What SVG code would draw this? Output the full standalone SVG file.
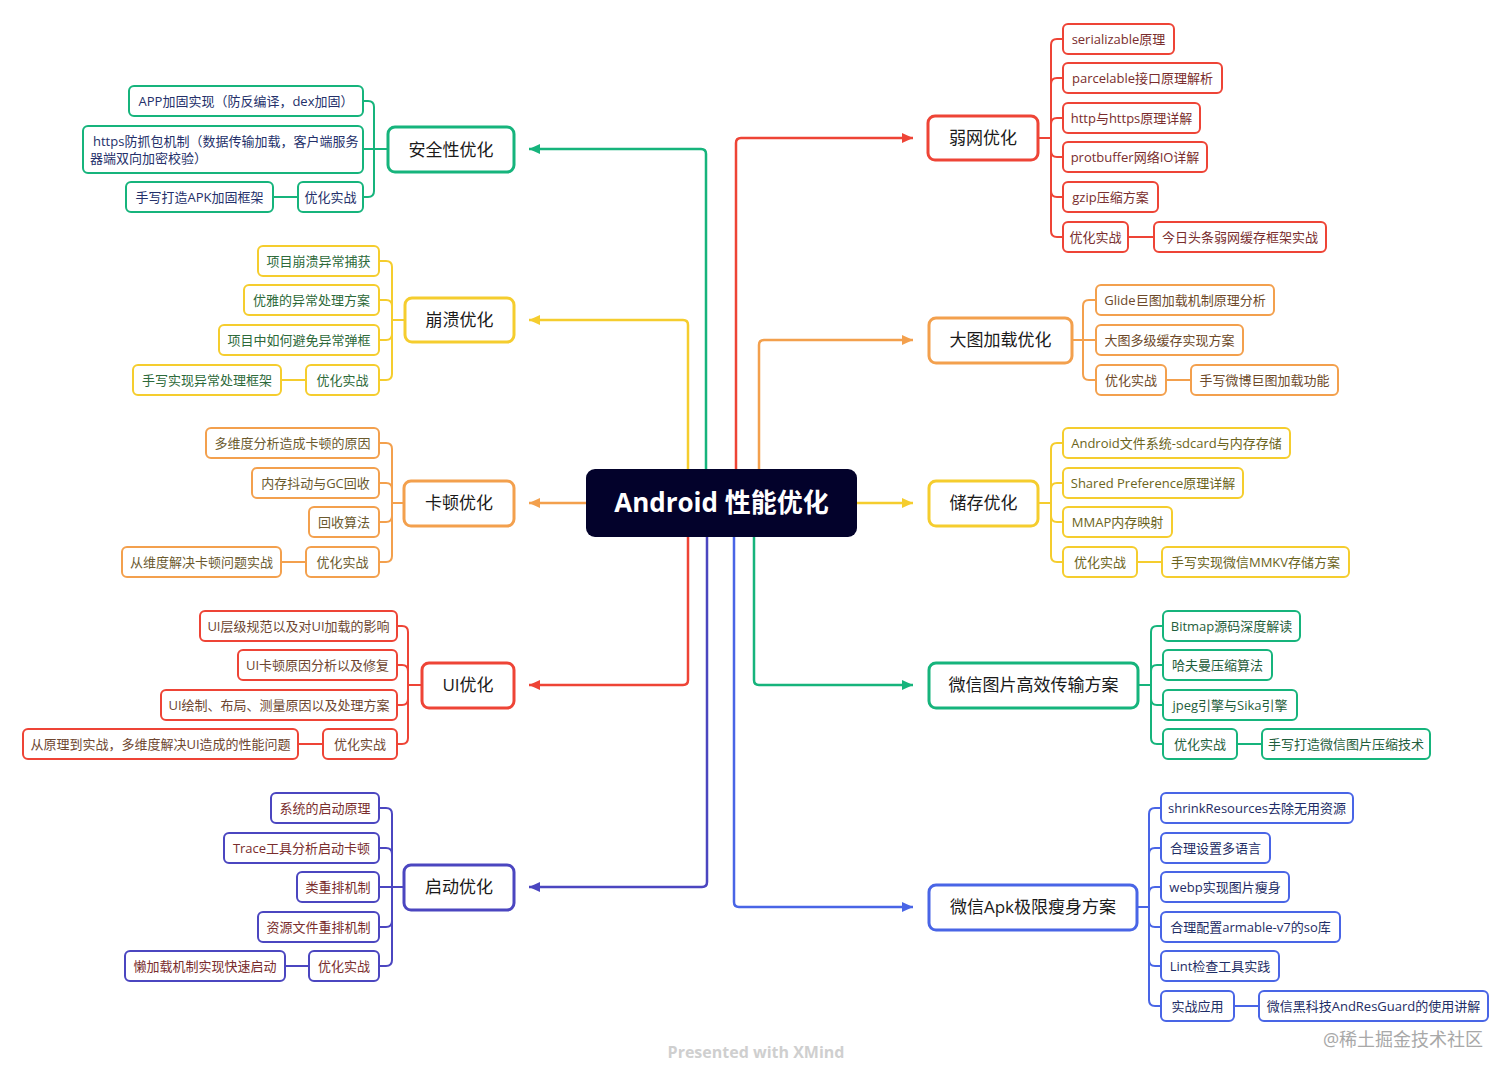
<svg xmlns="http://www.w3.org/2000/svg" width="1512" height="1077" viewBox="0 0 1512 1077">
<style>
text{font-family:"Open Sans","Noto Sans CJK SC",sans-serif;dominant-baseline:central;text-anchor:middle}
.c{font-size:13px}
.p{font-size:17px;fill:#1a1a1a}
rect.n{fill:#fff;stroke-width:2}
rect.m{fill:#fff;stroke-width:3}
.ln{fill:none;stroke-width:2}
.tk{fill:none;stroke-width:2.5}
.G{stroke:#16b47c}.Y{stroke:#f5cd2e}.O{stroke:#f3a04d}.R{stroke:#ee4436}.P{stroke:#4b46c0}.B{stroke:#4965e6}
.tA{fill:#24306a}.tC{fill:#2d6a3a}.tK{fill:#6b5a2e}.tU{fill:#6e4630}.tS{fill:#7a2d2d}.tW{fill:#7a2d2d}.tD{fill:#6e4a2a}.tT{fill:#6b6420}.tX{fill:#1f5e3c}.tB{fill:#1e2d66}
</style>
<defs>
<marker id="aG" markerUnits="userSpaceOnUse" markerWidth="11" markerHeight="10" refX="11" refY="5" orient="auto"><path d="M0,0 L11,5 L0,10 z" fill="#16b47c"/></marker>
<marker id="aY" markerUnits="userSpaceOnUse" markerWidth="11" markerHeight="10" refX="11" refY="5" orient="auto"><path d="M0,0 L11,5 L0,10 z" fill="#f5cd2e"/></marker>
<marker id="aO" markerUnits="userSpaceOnUse" markerWidth="11" markerHeight="10" refX="11" refY="5" orient="auto"><path d="M0,0 L11,5 L0,10 z" fill="#f3a04d"/></marker>
<marker id="aR" markerUnits="userSpaceOnUse" markerWidth="11" markerHeight="10" refX="11" refY="5" orient="auto"><path d="M0,0 L11,5 L0,10 z" fill="#ee4436"/></marker>
<marker id="aP" markerUnits="userSpaceOnUse" markerWidth="11" markerHeight="10" refX="11" refY="5" orient="auto"><path d="M0,0 L11,5 L0,10 z" fill="#4b46c0"/></marker>
<marker id="aB" markerUnits="userSpaceOnUse" markerWidth="11" markerHeight="10" refX="11" refY="5" orient="auto"><path d="M0,0 L11,5 L0,10 z" fill="#4965e6"/></marker>
</defs>
<rect width="1512" height="1077" fill="#fff"/>

<g id="connectors">
<path class="tk G" d="M706,469 V154 Q706,149 701,149 H529" marker-end="url(#aG)"/>
<path class="tk Y" d="M688,469 V325 Q688,320 683,320 H529" marker-end="url(#aY)"/>
<path class="tk O" d="M586,503 H529" marker-end="url(#aO)"/>
<path class="tk R" d="M688,537 V680 Q688,685 683,685 H529" marker-end="url(#aR)"/>
<path class="tk P" d="M707,537 V882 Q707,887 702,887 H529" marker-end="url(#aP)"/>
<path class="tk R" d="M736,469 V143 Q736,138 741,138 H913" marker-end="url(#aR)"/>
<path class="tk O" d="M759,469 V345 Q759,340 764,340 H913" marker-end="url(#aO)"/>
<path class="tk Y" d="M857,503 H913" marker-end="url(#aY)"/>
<path class="tk G" d="M754,537 V680 Q754,685 759,685 H913" marker-end="url(#aG)"/>
<path class="tk B" d="M734,537 V902 Q734,907 739,907 H913" marker-end="url(#aB)"/>
<path class="ln G" d="M388,149 H374 M374,149 V107 Q374,101 368,101 H363 M374,149 H363 M374,149 V191 Q374,197 368,197 H363 M298,197 H273"/>
<path class="ln Y" d="M405,320 H392 M392,320 V267 Q392,261 386,261 H379 M392,320 V306 Q392,300 386,300 H379 M392,320 V334 Q392,340 386,340 H379 M392,320 V374 Q392,380 386,380 H379 M306,380 H281"/>
<path class="ln O" d="M404,503 H392 M392,503 V449 Q392,443 386,443 H379 M392,503 V489 Q392,483 386,483 H379 M392,503 V516 Q392,522 386,522 H379 M392,503 V556 Q392,562 386,562 H379 M306,562 H281"/>
<path class="ln R" d="M422,685 H408 M408,685 V632 Q408,626 402,626 H397 M408,685 V671 Q408,665 402,665 H397 M408,685 V699 Q408,705 402,705 H397 M408,685 V738 Q408,744 402,744 H397 M323,744 H298"/>
<path class="ln P" d="M404,887 H392 M392,887 V814 Q392,808 386,808 H379 M392,887 V854 Q392,848 386,848 H379 M392,887 H379 M392,887 V921 Q392,927 386,927 H379 M392,887 V960 Q392,966 386,966 H379 M309,966 H285"/>
<path class="ln R" d="M1038,138 H1051 M1051,138 V45 Q1051,39 1057,39 H1063 M1051,138 V84 Q1051,78 1057,78 H1063 M1051,138 V124 Q1051,118 1057,118 H1063 M1051,138 V151 Q1051,157 1057,157 H1063 M1051,138 V191 Q1051,197 1057,197 H1063 M1051,138 V231 Q1051,237 1057,237 H1063 M1128,237 H1154"/>
<path class="ln O" d="M1072,340 H1083 M1083,340 V306 Q1083,300 1089,300 H1096 M1083,340 H1096 M1083,340 V374 Q1083,380 1089,380 H1096 M1166,380 H1191"/>
<path class="ln Y" d="M1038,503 H1051 M1051,503 V449 Q1051,443 1057,443 H1063 M1051,503 V489 Q1051,483 1057,483 H1063 M1051,503 V516 Q1051,522 1057,522 H1063 M1051,503 V556 Q1051,562 1057,562 H1063 M1137,562 H1162"/>
<path class="ln G" d="M1138,685 H1151 M1151,685 V632 Q1151,626 1157,626 H1163 M1151,685 V671 Q1151,665 1157,665 H1163 M1151,685 V699 Q1151,705 1157,705 H1163 M1151,685 V738 Q1151,744 1157,744 H1163 M1237,744 H1262"/>
<path class="ln B" d="M1137,907 H1149 M1149,907 V814 Q1149,808 1155,808 H1161 M1149,907 V854 Q1149,848 1155,848 H1161 M1149,907 V893 Q1149,887 1155,887 H1161 M1149,907 V921 Q1149,927 1155,927 H1161 M1149,907 V960 Q1149,966 1155,966 H1161 M1149,907 V1000 Q1149,1006 1155,1006 H1161 M1234,1006 H1259"/>
</g>

<g id="root"><rect x="586" y="469" width="271" height="68" rx="9" fill="#03022b"/><text x="721.5" y="502" fill="#fff" font-size="26" font-weight="700">Android 性能优化</text></g>

<g id="n-anquan"><rect class="m G" x="388" y="127" width="126" height="45" rx="7"/><text class="p" x="451" y="149">安全性优化</text></g>
<g id="n-anquan-1"><rect class="n G" x="129" y="86" width="234" height="30" rx="5"/><text class="c tA" x="246" y="100.5">APP加固实现（防反编译，dex加固）</text></g>
<g id="n-anquan-2"><rect class="n G" x="83" y="126" width="280" height="47" rx="5"/><text class="c tA" x="93" y="140.5" style="text-anchor:start">https防抓包机制（数据传输加载，客户端服务</text><text class="c tA" x="90" y="157.5" style="text-anchor:start">器端双向加密校验）</text></g>
<g id="n-anquan-3"><rect class="n G" x="298" y="182" width="65" height="30" rx="5"/><text class="c tA" x="330.5" y="196.5">优化实战</text></g>
<g id="n-anquan-4"><rect class="n G" x="126" y="182" width="147" height="30" rx="5"/><text class="c tA" x="199.5" y="196.5">手写打造APK加固框架</text></g>

<g id="n-bengkui"><rect class="m Y" x="405" y="298" width="109" height="44" rx="7"/><text class="p" x="459.5" y="319.5">崩溃优化</text></g>
<g id="n-bengkui-1"><rect class="n Y" x="258" y="246" width="121" height="30" rx="5"/><text class="c tC" x="318.5" y="260.5">项目崩溃异常捕获</text></g>
<g id="n-bengkui-2"><rect class="n Y" x="244" y="285" width="135" height="30" rx="5"/><text class="c tC" x="311.5" y="299.5">优雅的异常处理方案</text></g>
<g id="n-bengkui-3"><rect class="n Y" x="219" y="325" width="160" height="30" rx="5"/><text class="c tC" x="299" y="339.5">项目中如何避免异常弹框</text></g>
<g id="n-bengkui-4"><rect class="n Y" x="306" y="365" width="73" height="30" rx="5"/><text class="c tC" x="342.5" y="379.5">优化实战</text></g>
<g id="n-bengkui-5"><rect class="n Y" x="133" y="365" width="148" height="30" rx="5"/><text class="c tC" x="207" y="379.5">手写实现异常处理框架</text></g>

<g id="n-kadun"><rect class="m O" x="404" y="481" width="110" height="45" rx="7"/><text class="p" x="459" y="502.5">卡顿优化</text></g>
<g id="n-kadun-1"><rect class="n O" x="206" y="428" width="173" height="30" rx="5"/><text class="c tK" x="292.5" y="442.5">多维度分析造成卡顿的原因</text></g>
<g id="n-kadun-2"><rect class="n O" x="252" y="468" width="127" height="30" rx="5"/><text class="c tK" x="315.5" y="482.5">内存抖动与GC回收</text></g>
<g id="n-kadun-3"><rect class="n O" x="309" y="507" width="70" height="30" rx="5"/><text class="c tK" x="344" y="521.5">回收算法</text></g>
<g id="n-kadun-4"><rect class="n O" x="306" y="547" width="73" height="30" rx="5"/><text class="c tK" x="342.5" y="561.5">优化实战</text></g>
<g id="n-kadun-5"><rect class="n O" x="122" y="547" width="159" height="30" rx="5"/><text class="c tK" x="201.5" y="561.5">从维度解决卡顿问题实战</text></g>

<g id="n-ui"><rect class="m R" x="422" y="663" width="92" height="45" rx="7"/><text class="p" x="468" y="684.5">UI优化</text></g>
<g id="n-ui-1"><rect class="n R" x="200" y="611" width="197" height="30" rx="5"/><text class="c tU" x="298.5" y="625.5">UI层级规范以及对UI加载的影响</text></g>
<g id="n-ui-2"><rect class="n R" x="238" y="650" width="159" height="30" rx="5"/><text class="c tU" x="317.5" y="664.5">UI卡顿原因分析以及修复</text></g>
<g id="n-ui-3"><rect class="n R" x="161" y="690" width="236" height="30" rx="5"/><text class="c tU" x="279" y="704.5">UI绘制、布局、测量原因以及处理方案</text></g>
<g id="n-ui-4"><rect class="n R" x="323" y="729" width="74" height="30" rx="5"/><text class="c tU" x="360" y="743.5">优化实战</text></g>
<g id="n-ui-5"><rect class="n R" x="23" y="729" width="275" height="30" rx="5"/><text class="c tU" x="160.5" y="743.5">从原理到实战，多维度解决UI造成的性能问题</text></g>

<g id="n-qidong"><rect class="m P" x="404" y="865" width="110" height="45" rx="7"/><text class="p" x="459" y="886.5">启动优化</text></g>
<g id="n-qidong-1"><rect class="n P" x="271" y="793" width="108" height="30" rx="5"/><text class="c tS" x="325" y="807.5">系统的启动原理</text></g>
<g id="n-qidong-2"><rect class="n P" x="224" y="833" width="155" height="30" rx="5"/><text class="c tS" x="301.5" y="847.5">Trace工具分析启动卡顿</text></g>
<g id="n-qidong-3"><rect class="n P" x="297" y="872" width="82" height="30" rx="5"/><text class="c tS" x="338" y="886.5">类重排机制</text></g>
<g id="n-qidong-4"><rect class="n P" x="258" y="912" width="121" height="30" rx="5"/><text class="c tS" x="318.5" y="926.5">资源文件重排机制</text></g>
<g id="n-qidong-5"><rect class="n P" x="309" y="951" width="70" height="30" rx="5"/><text class="c tS" x="344" y="965.5">优化实战</text></g>
<g id="n-qidong-6"><rect class="n P" x="125" y="951" width="160" height="30" rx="5"/><text class="c tS" x="205" y="965.5">懒加载机制实现快速启动</text></g>

<g id="n-ruowang"><rect class="m R" x="928" y="116" width="110" height="44" rx="7"/><text class="p" x="983" y="137.5">弱网优化</text></g>
<g id="n-ruowang-1"><rect class="n R" x="1063" y="24" width="111" height="30" rx="5"/><text class="c tW" x="1118.5" y="38.5">serializable原理</text></g>
<g id="n-ruowang-2"><rect class="n R" x="1063" y="63" width="159" height="30" rx="5"/><text class="c tW" x="1142.5" y="77.5">parcelable接口原理解析</text></g>
<g id="n-ruowang-3"><rect class="n R" x="1063" y="103" width="137" height="30" rx="5"/><text class="c tW" x="1131.5" y="117.5">http与https原理详解</text></g>
<g id="n-ruowang-4"><rect class="n R" x="1063" y="142" width="144" height="30" rx="5"/><text class="c tW" x="1135" y="156.5">protbuffer网络IO详解</text></g>
<g id="n-ruowang-5"><rect class="n R" x="1063" y="182" width="95" height="30" rx="5"/><text class="c tW" x="1110.5" y="196.5">gzip压缩方案</text></g>
<g id="n-ruowang-6"><rect class="n R" x="1063" y="222" width="65" height="30" rx="5"/><text class="c tW" x="1095.5" y="236.5">优化实战</text></g>
<g id="n-ruowang-7"><rect class="n R" x="1154" y="222" width="172" height="30" rx="5"/><text class="c tW" x="1240" y="236.5">今日头条弱网缓存框架实战</text></g>

<g id="n-datu"><rect class="m O" x="929" y="318" width="143" height="45" rx="7"/><text class="p" x="1000.5" y="339.5">大图加载优化</text></g>
<g id="n-datu-1"><rect class="n O" x="1096" y="285" width="178" height="30" rx="5"/><text class="c tD" x="1185" y="299.5">Glide巨图加载机制原理分析</text></g>
<g id="n-datu-2"><rect class="n O" x="1096" y="325" width="147" height="30" rx="5"/><text class="c tD" x="1169.5" y="339.5">大图多级缓存实现方案</text></g>
<g id="n-datu-3"><rect class="n O" x="1096" y="365" width="70" height="30" rx="5"/><text class="c tD" x="1131" y="379.5">优化实战</text></g>
<g id="n-datu-4"><rect class="n O" x="1191" y="365" width="147" height="30" rx="5"/><text class="c tD" x="1264.5" y="379.5">手写微博巨图加载功能</text></g>

<g id="n-chucun"><rect class="m Y" x="929" y="481" width="109" height="45" rx="7"/><text class="p" x="983.5" y="502.5">储存优化</text></g>
<g id="n-chucun-1"><rect class="n Y" x="1063" y="428" width="227" height="30" rx="5"/><text class="c tT" x="1176.5" y="442.5">Android文件系统-sdcard与内存存储</text></g>
<g id="n-chucun-2"><rect class="n Y" x="1063" y="468" width="180" height="30" rx="5"/><text class="c tT" x="1153" y="482.5">Shared Preference原理详解</text></g>
<g id="n-chucun-3"><rect class="n Y" x="1063" y="507" width="109" height="30" rx="5"/><text class="c tT" x="1117.5" y="521.5">MMAP内存映射</text></g>
<g id="n-chucun-4"><rect class="n Y" x="1063" y="547" width="74" height="30" rx="5"/><text class="c tT" x="1100" y="561.5">优化实战</text></g>
<g id="n-chucun-5"><rect class="n Y" x="1162" y="547" width="187" height="30" rx="5"/><text class="c tT" x="1255.5" y="561.5">手写实现微信MMKV存储方案</text></g>

<g id="n-tupian"><rect class="m G" x="929" y="663" width="209" height="45" rx="7"/><text class="p" x="1033.5" y="684.5">微信图片高效传输方案</text></g>
<g id="n-tupian-1"><rect class="n G" x="1163" y="611" width="137" height="30" rx="5"/><text class="c tX" x="1231.5" y="625.5">Bitmap源码深度解读</text></g>
<g id="n-tupian-2"><rect class="n G" x="1163" y="650" width="109" height="30" rx="5"/><text class="c tX" x="1217.5" y="664.5">哈夫曼压缩算法</text></g>
<g id="n-tupian-3"><rect class="n G" x="1163" y="690" width="134" height="30" rx="5"/><text class="c tX" x="1230" y="704.5">jpeg引擎与Sika引擎</text></g>
<g id="n-tupian-4"><rect class="n G" x="1163" y="729" width="74" height="30" rx="5"/><text class="c tX" x="1200" y="743.5">优化实战</text></g>
<g id="n-tupian-5"><rect class="n G" x="1262" y="729" width="168" height="30" rx="5"/><text class="c tX" x="1346" y="743.5">手写打造微信图片压缩技术</text></g>

<g id="n-apk"><rect class="m B" x="929" y="885" width="208" height="45" rx="7"/><text class="p" x="1033" y="906.5">微信Apk极限瘦身方案</text></g>
<g id="n-apk-1"><rect class="n B" x="1161" y="793" width="192" height="30" rx="5"/><text class="c tB" x="1257" y="807.5">shrinkResources去除无用资源</text></g>
<g id="n-apk-2"><rect class="n B" x="1161" y="833" width="109" height="30" rx="5"/><text class="c tB" x="1215.5" y="847.5">合理设置多语言</text></g>
<g id="n-apk-3"><rect class="n B" x="1161" y="872" width="128" height="30" rx="5"/><text class="c tB" x="1225" y="886.5">webp实现图片瘦身</text></g>
<g id="n-apk-4"><rect class="n B" x="1161" y="912" width="179" height="30" rx="5"/><text class="c tB" x="1250.5" y="926.5">合理配置armable-v7的so库</text></g>
<g id="n-apk-5"><rect class="n B" x="1161" y="951" width="118" height="30" rx="5"/><text class="c tB" x="1220" y="965.5">Lint检查工具实践</text></g>
<g id="n-apk-6"><rect class="n B" x="1161" y="991" width="73" height="30" rx="5"/><text class="c tB" x="1197.5" y="1005.5">实战应用</text></g>
<g id="n-apk-7"><rect class="n B" x="1259" y="991" width="229" height="30" rx="5"/><text class="c tB" x="1373.5" y="1005.5">微信黑科技AndResGuard的使用讲解</text></g>

<text x="756" y="1052" font-size="16" font-weight="700" fill="#cfcfcf">Presented with XMind</text>
<text x="1403" y="1039" font-size="18" fill="#a8a8a8">@稀土掘金技术社区</text>
</svg>
